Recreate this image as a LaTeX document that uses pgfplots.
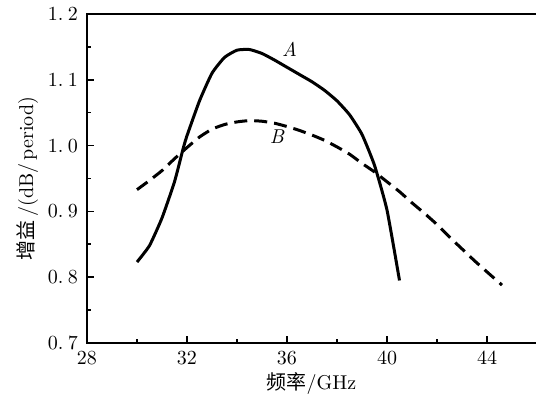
\documentclass[border=0pt]{standalone}
\usepackage{pgfplots}
\pgfplotsset{compat=1.18}
\usepackage{fontspec}
\newfontfamily\cjk{Noto Sans CJK SC}
\begin{document}
\begin{tikzpicture}
\begin{axis}[
  scale only axis,
  width=224.5pt, height=164.5pt,
  xmin=28, xmax=45.96, ymin=0.7, ymax=1.2,
  xtick={28,32,36,40,44},
  minor xtick={30,34,38,42},
  ytick={0.7,0.8,0.9,1.0,1.1,1.2},
  yticklabels={0.\hspace{0.22em}7,0.\hspace{0.22em}8,0.\hspace{0.22em}9,1.\hspace{0.22em}0,1.\hspace{0.22em}1,1.\hspace{0.22em}2},
  minor ytick={0.75,0.85,0.95,1.05,1.15},
  xtick pos=bottom, ytick pos=left,
  tick align=inside,
  major tick length=3.5pt, minor tick length=2pt,
  tick style={line width=0.8pt, black},
  axis line style={draw=none},
  ticklabel style={font=\fontsize{10}{12}\selectfont},
  /pgf/number format/assume math mode=true,
  xticklabel style={yshift=-0.5pt},
  yticklabel style={xshift=-1pt},
  xlabel={{\cjk 频率}/GHz},
  ylabel={{\cjk 增益}\,/(dB/\,period)},
  label style={font=\fontsize{10}{12}\selectfont},
  xlabel style={yshift=3pt},
  ylabel style={yshift=-2pt},
  clip=false,
]
\addplot[black, line width=1.5pt, smooth, tension=0.3] coordinates {
(30.0,0.823) (30.5,0.848) (31.0,0.890) (31.5,0.945) (31.85,0.996) (32.0,1.015)
(32.5,1.068) (33.0,1.110) (33.5,1.134) (34.0,1.145) (34.5,1.146) (35.0,1.140)
(35.5,1.130) (36.0,1.119) (36.5,1.108) (37.0,1.097) (37.5,1.084) (38.0,1.068)
(38.5,1.047) (39.0,1.017) (39.5,0.970) (40.0,0.902) (40.5,0.795)
};
\addplot[black, line width=1.5pt, dash pattern=on 6.5pt off 3.5pt, smooth, tension=0.3] coordinates {
(30.0,0.933) (30.5,0.947) (31.0,0.962) (31.5,0.980) (32.0,0.997) (32.5,1.013)
(33.0,1.025) (33.5,1.032) (34.0,1.036) (34.5,1.038) (35.0,1.037) (35.5,1.034)
(36.0,1.029) (36.5,1.023) (37.0,1.016) (37.5,1.008) (38.0,0.998) (38.5,0.987)
(39.0,0.973) (39.5,0.960) (40.0,0.945) (40.5,0.930) (41.0,0.913) (41.5,0.897)
(42.0,0.880) (42.5,0.861) (43.0,0.843) (43.5,0.825) (44.0,0.808) (44.6,0.788)
};
\node[font=\fontsize{10}{12}\selectfont\itshape] at (axis cs:36.1,1.147) {A};
\node[font=\fontsize{10}{12}\selectfont\itshape] at (axis cs:35.6,1.013) {B};
\draw[line width=1pt, line cap=rect] (rel axis cs:1,1) -- (rel axis cs:0,1) -- (rel axis cs:0,0) -- (rel axis cs:1,0);
\coordinate (ll) at (rel axis cs:0,0);
\coordinate (ur) at (rel axis cs:1,1);
\end{axis}
\pgfresetboundingbox
\path ([xshift=-43.5pt,yshift=-30pt]ll) rectangle ([yshift=7pt]ur);
\end{tikzpicture}
\end{document}
